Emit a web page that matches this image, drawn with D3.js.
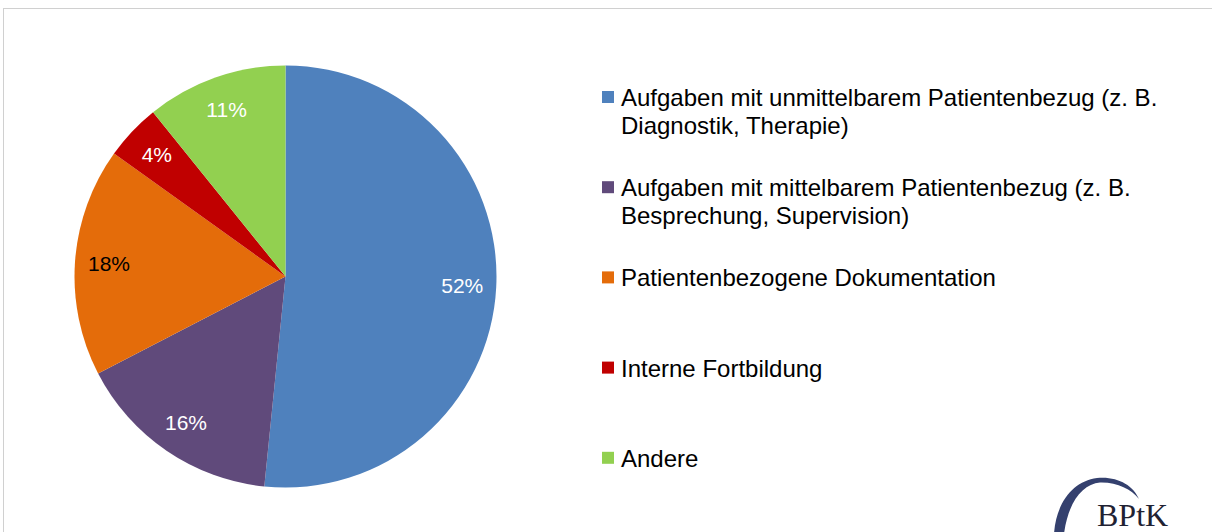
<!DOCTYPE html>
<html><head><meta charset="utf-8">
<script src="https://cdn.jsdelivr.net/npm/d3@7"></script>
<style>
html,body{margin:0;padding:0;background:#fff;}
svg{display:block;font-family:"Liberation Sans",Arial,sans-serif;}
</style></head>
<body>
<svg id="chart" width="1212" height="532"></svg>
<script>
const categories = [
  "Aufgaben mit unmittelbarem Patientenbezug (z. B. Diagnostik, Therapie)",
  "Aufgaben mit mittelbarem Patientenbezug (z. B. Besprechung, Supervision)",
  "Patientenbezogene Dokumentation",
  "Interne Fortbildung",
  "Andere"
];
const values = [51.6, 15.8, 17.5, 4.3, 10.8];
const valueLabels = ["52%", "16%", "18%", "4%", "11%"];
const colors = ["#4F81BD", "#604A7B", "#E46C0A", "#C00000", "#92D050"];
const labelColors = ["#fff", "#fff", "#000", "#fff", "#fff"];

const svg = d3.select("#chart");
const W = 1212, H = 532;
const FONT = '"Liberation Sans", Arial, sans-serif';

// outer frame
svg.append("rect").attr("x", 3.5).attr("y", 8.5).attr("width", W + 10).attr("height", H + 10)
  .attr("fill", "#fff").attr("stroke", "#d0d0d0").attr("stroke-width", 1);

const cx = 285.5, cy = 276.5, R = 211;
const pie = d3.pie().sort(null).value(d => d);
const arcs = pie(values);
const arc = d3.arc().innerRadius(0).outerRadius(R);
const labelArc = d3.arc().innerRadius(177).outerRadius(177);

const g = svg.append("g").attr("transform", `translate(${cx},${cy})`);
g.selectAll("path.slice").data(arcs).join("path")
  .attr("class", "slice")
  .attr("d", arc)
  .attr("fill", (d, i) => colors[i]);

g.selectAll("text.lbl").data(arcs).join("text")
  .attr("class", "lbl")
  .attr("transform", d => `translate(${labelArc.centroid(d)})`)
  .attr("text-anchor", "middle")
  .attr("dominant-baseline", "central")
  .attr("font-family", FONT)
  .attr("font-size", 21)
  .attr("fill", (d, i) => labelColors[i])
  .text((d, i) => valueLabels[i]);

// legend
const legendX = 602, textX = 621, firstY = 97, stepY = 90.2, lineH = 28, fs = 24;
const maxW = 570;
const ctx = document.createElement("canvas").getContext("2d");
ctx.font = `${fs}px ${FONT}`;
function wrap(str) {
  const words = str.split(" ");
  const lines = []; let cur = "";
  words.forEach(w => {
    const t = cur ? cur + " " + w : w;
    if (ctx.measureText(t).width > maxW && cur) { lines.push(cur); cur = w; }
    else cur = t;
  });
  if (cur) lines.push(cur);
  return lines;
}
const lg = svg.append("g");
categories.forEach((c, i) => {
  const y = firstY + i * stepY;
  lg.append("rect").attr("x", legendX).attr("y", y - 6).attr("width", 12).attr("height", 12)
    .attr("fill", colors[i]);
  const t = lg.append("text").attr("x", textX).attr("y", y).attr("font-size", fs)
    .attr("font-family", FONT)
    .attr("dominant-baseline", "central").attr("fill", "#000");
  wrap(c).forEach((ln, j) => {
    t.append("tspan").attr("x", textX).attr("dy", j === 0 ? 0 : lineH).text(ln);
  });
});

// BPtK logo
const logo = svg.append("g");
logo.append("path")
  .attr("d", "M1054,534 C1056,503 1073,481 1097,478 C1117,476 1133,485 1139,499 C1131,489 1117,482 1100,482.5 C1082,484 1068,503 1064,534 Z")
  .attr("fill", "#34406e");
logo.append("text").attr("x", 1097).attr("y", 526)
  .attr("font-family", "'Liberation Serif','DejaVu Serif',serif")
  .attr("font-size", 32).attr("fill", "#1f2233").text("BPtK");
</script>
</body></html>
